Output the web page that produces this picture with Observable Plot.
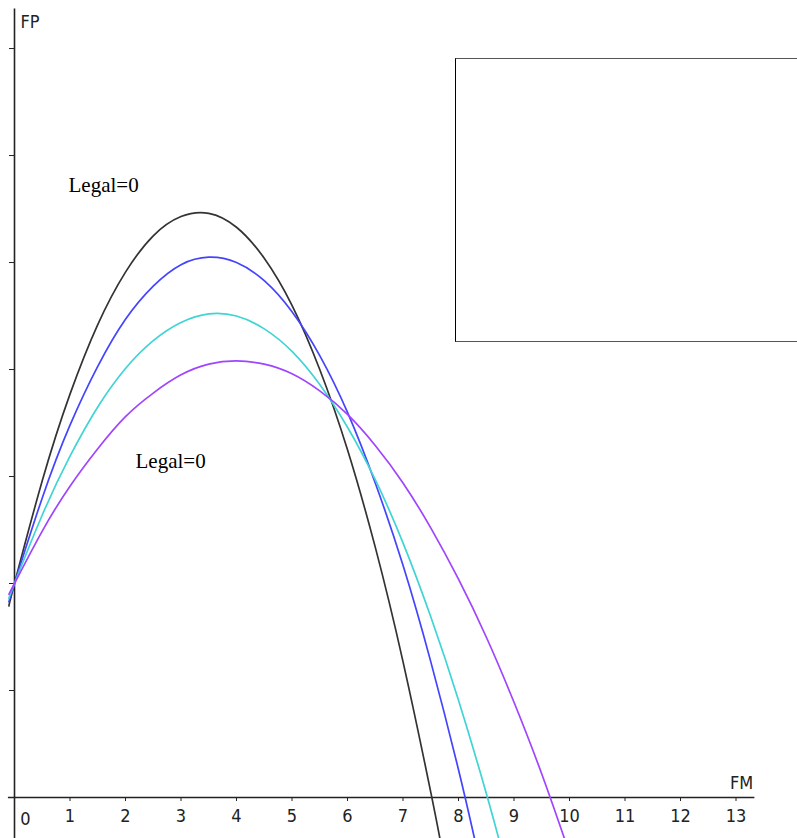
<!DOCTYPE html>
<html>
<head>
<meta charset="utf-8">
<script src="https://cdn.jsdelivr.net/npm/d3@7"></script>
<script src="https://cdn.jsdelivr.net/npm/@observablehq/plot@0.6"></script>
<style>
  html, body { margin: 0; padding: 0; background: white; overflow: hidden; }
  #wrap { position: relative; width: 797px; height: 838px; }
  #legendBox { position: absolute; left: 455px; top: 58px; width: 350px; height: 284px;
    border: 1px solid #000; border-top-color: #555; border-bottom-color: #555; box-sizing: border-box; background: transparent; }
  svg text.narrow, svg g.narrow text { font-stretch: condensed; }
</style>
</head>
<body>
<div id="wrap"><div id="chart"></div><div id="legendBox"></div></div>
<script>
// FM values at which curves were read
const fmBlack  = [-0.1, 0, 0.5, 1, 1.5, 2, 2.5, 3, 3.5, 4, 4.5, 5, 5.5, 6, 6.5, 7, 7.5, 7.7];
const fpBlack  = [1.79, 2, 2.96, 3.77, 4.42, 4.91, 5.25, 5.43, 5.46, 5.33, 5.04, 4.60, 4.00, 3.25, 2.34, 1.27, 0.05, -0.48];
const fmBlue   = [-0.1, 0, 0.5, 1, 1.5, 2, 2.5, 3, 3.5, 4, 4.5, 5, 5.5, 6, 6.5, 7, 7.5, 8, 8.3];
const fpBlue   = [1.83, 2, 2.80, 3.48, 4.03, 4.47, 4.78, 4.98, 5.05, 5.00, 4.83, 4.54, 4.13, 3.60, 2.94, 2.17, 1.27, 0.26, -0.41];
const fmCyan   = [-0.1, 0, 0.5, 1, 1.5, 2, 2.5, 3, 3.5, 4, 4.5, 5, 5.5, 6, 6.5, 7, 7.5, 8, 8.5, 8.8];
const fpCyan   = [1.86, 2, 2.64, 3.19, 3.65, 4.01, 4.27, 4.44, 4.52, 4.50, 4.38, 4.17, 3.86, 3.46, 2.97, 2.38, 1.69, 0.91, 0.04, -0.53];
const fmPurple = [-0.1, 0, 0.5, 1, 1.5, 2, 2.5, 3, 3.5, 4, 4.5, 5, 5.5, 6, 6.5, 7, 7.5, 8, 8.5, 9, 9.5, 9.9, 10];
const fpPurple = [1.90, 2, 2.49, 2.91, 3.26, 3.56, 3.78, 3.95, 4.05, 4.08, 4.05, 3.96, 3.80, 3.58, 3.29, 2.94, 2.52, 2.04, 1.50, 0.89, 0.22, -0.37, -0.52];

const seriesNames  = ["curve 1", "curve 2", "curve 3", "curve 4"];
const seriesColors = ["#333333", "#4444ff", "#40d4d4", "#a044ff"];

const xTicks = [1, 2, 3, 4, 5, 6, 7, 8, 9, 10, 11, 12, 13];
const yTicks = [1, 2, 3, 4, 5, 6, 7];
const labelTexts = ["Legal=0", "Legal=0"];
const labelFM = [0.973, 2.18];
const labelFP = [5.72, 3.14];

const series = [
  [fmBlack, fpBlack], [fmBlue, fpBlue], [fmCyan, fpCyan], [fmPurple, fpPurple]
];
const curveRows = series.flatMap(([xs, ys], i) =>
  xs.map((x, j) => ({series: seriesNames[i], FM: x, FP: ys[j]})));
const labels = labelTexts.map((t, i) => ({t, FM: labelFM[i], FP: labelFP[i]}));

const narrow = "'DejaVu Sans Condensed', 'Liberation Sans Narrow', 'Arial Narrow', sans-serif";

const chart = Plot.plot({
  width: 797,
  height: 838,
  marginLeft: 14,
  marginRight: 0,
  marginTop: 0,
  marginBottom: 41,
  x: {domain: [0, 14.108], label: null},
  y: {domain: [0, 7.449], label: null},
  color: {domain: seriesNames, range: seriesColors},
  style: {fontFamily: narrow, background: "white"},
  marks: [
    Plot.ruleY([0], {x1: -0.11, x2: 13.34, stroke: "#222", strokeWidth: 1.6}),
    Plot.ruleX([0], {y1: -0.4, y2: 7.37, stroke: "#222", strokeWidth: 1.6}),
    Plot.axisX({ticks: xTicks, tickSize: 4, tickPadding: 8, fontSize: 18, stroke: "#222", fill: "#222", label: null, className: "narrow"}),
    Plot.axisY({ticks: yTicks, tickSize: 5, tickFormat: () => "", stroke: "#222", label: null}),
    Plot.text(["0"], {x: 0, y: 0, dx: 11, dy: 22, fontSize: 18, fill: "#222", className: "narrow"}),
    Plot.text(["FM"], {x: 13.3, y: 0, dx: -11, dy: -14, fontSize: 18, fill: "#222", className: "narrow"}),
    Plot.text(["FP"], {x: 0, y: 7.449, dx: 6, dy: 22, textAnchor: "start", fontSize: 18, fill: "#222", className: "narrow"}),
    Plot.line(curveRows, {x: "FM", y: "FP", z: "series", stroke: "series", strokeWidth: 1.7, curve: "natural"}),
    Plot.text(labels, {x: "FM", y: "FP", text: "t", textAnchor: "start", fontSize: 21, fontFamily: "'Liberation Serif', 'Times New Roman', serif", fill: "#000"})
  ]
});
document.getElementById("chart").appendChild(chart);
</script>
</body>
</html>
